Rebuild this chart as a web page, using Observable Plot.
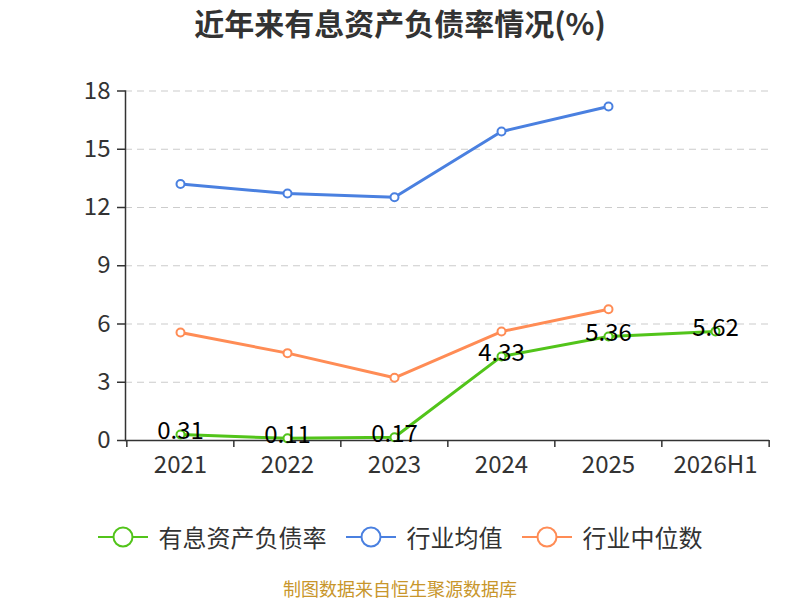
<!DOCTYPE html>
<html><head><meta charset="utf-8">
<script src="https://cdn.jsdelivr.net/npm/d3@7"></script>
<script src="https://cdn.jsdelivr.net/npm/@observablehq/plot@0.6"></script>
<style>
body{margin:0;background:#fff;}
#wrap{position:relative;width:800px;height:600px;font-family:"Noto Sans CJK SC","Noto Sans",sans-serif;overflow:hidden;background:#fff}
#title{position:absolute;top:0;left:0;width:800px;text-align:center;font-size:30px;font-weight:bold;color:#333;line-height:44px}
#chart{position:absolute;top:60px;left:0}
#unit{position:absolute;left:62px;top:125px;transform:translate(-50%,-50%) rotate(-90deg);color:#e00;font-size:15px;line-height:16px;white-space:nowrap}
#legend{position:absolute;top:521px;left:0;width:800px;height:32px;display:flex;justify-content:center;align-items:center;gap:19px}
.item{display:flex;align-items:center;gap:11px;font-size:24px;color:#333;line-height:32px}
#caption{position:absolute;top:578px;left:0;width:800px;text-align:center;font-size:18px;color:#C8962B;line-height:21px}
</style></head>
<body>
<div id="wrap">
  <div id="title">近年来有息资产负债率情况(%)</div>
  <div id="unit">(%)</div>
  <div id="chart"></div>
  <div id="legend"></div>
  <div id="caption">制图数据来自恒生聚源数据库</div>
</div>
<script>
const categories = ["2021","2022","2023","2024","2025","2026H1"];
const debtRatio = [0.31,0.11,0.17,4.33,5.36,5.62];
const industryMean = [13.21,12.72,12.53,15.91,17.2,null];
const industryMedian = [5.56,4.50,3.23,5.61,6.76,null];
const yTicks = [0,3,6,9,12,15,18];
const seriesNames = ["有息资产负债率","行业均值","行业中位数"];
const colors = ["#52C41A","#4A80E0","#FF8C55"];

const seriesValues = [debtRatio, industryMean, industryMedian];
const rows = [];
seriesValues.forEach((vals, si) => {
  vals.forEach((v, i) => { if (v != null) rows.push({series: seriesNames[si], x: categories[i], y: v}); });
});
const debtRows = rows.filter(d => d.series === seriesNames[0]);

const W = 800, H = 440, mL = 125, mR = 31, mT = 30.5, mB = 60;
const step = (W - mL - mR) / categories.length;

const chart = Plot.plot({
  width: W, height: H,
  marginLeft: mL, marginRight: mR, marginTop: mT, marginBottom: mB,
  style: {fontFamily: "'Noto Sans CJK SC','Noto Sans',sans-serif", background: "#fff"},
  x: {type: "point", domain: categories, padding: 0.5},
  y: {domain: [0, 18]},
  color: {domain: seriesNames, range: colors},
  marks: [
    Plot.gridY(yTicks.slice(1), {stroke: "#ccc", strokeOpacity: 1, strokeDasharray: "7,5", strokeWidth: 1.2}),
    Plot.axisY({ticks: yTicks, tickSize: 8, tickPadding: 7, fontSize: 24, color: "#333", strokeWidth: 1.5, label: null}),
    Plot.frame({anchor: "left", stroke: "#333", strokeWidth: 1.5}),
    Plot.ruleY([0], {stroke: "#333", strokeWidth: 1.5}),
    Plot.axisX({ticks: categories, tickSize: 0, tickPadding: 15, fontSize: 24, color: "#333", label: null}),
    Plot.axisX({ticks: categories, tickSize: 7, text: null, dx: -step / 2, color: "#333", strokeWidth: 1.5, label: null}),
    Plot.axisX({ticks: categories.slice(-1), tickSize: 7, text: null, dx: step / 2, color: "#333", strokeWidth: 1.5, label: null}),
    Plot.line(rows, {x: "x", y: "y", z: "series", stroke: "series", strokeWidth: 3}),
    Plot.dot(rows, {x: "x", y: "y", stroke: "series", fill: "white", r: 4, strokeWidth: 2}),
    Plot.text(debtRows, {x: "x", y: "y", text: d => d.y.toFixed(2), fontSize: 24, fill: "#000", dy: -3})
  ]
});
document.getElementById("chart").appendChild(chart);

const legend = d3.select("#legend");
seriesNames.forEach((name, i) => {
  const item = legend.append("div").attr("class", "item");
  const svg = item.append("svg").attr("width", 50).attr("height", 24);
  svg.append("line").attr("x1", 0).attr("x2", 50).attr("y1", 12).attr("y2", 12).attr("stroke", colors[i]).attr("stroke-width", 2);
  svg.append("circle").attr("cx", 25).attr("cy", 12).attr("r", 9.5).attr("fill", "#fff").attr("stroke", colors[i]).attr("stroke-width", 2);
  item.append("span").text(name);
});
</script>
</body></html>
